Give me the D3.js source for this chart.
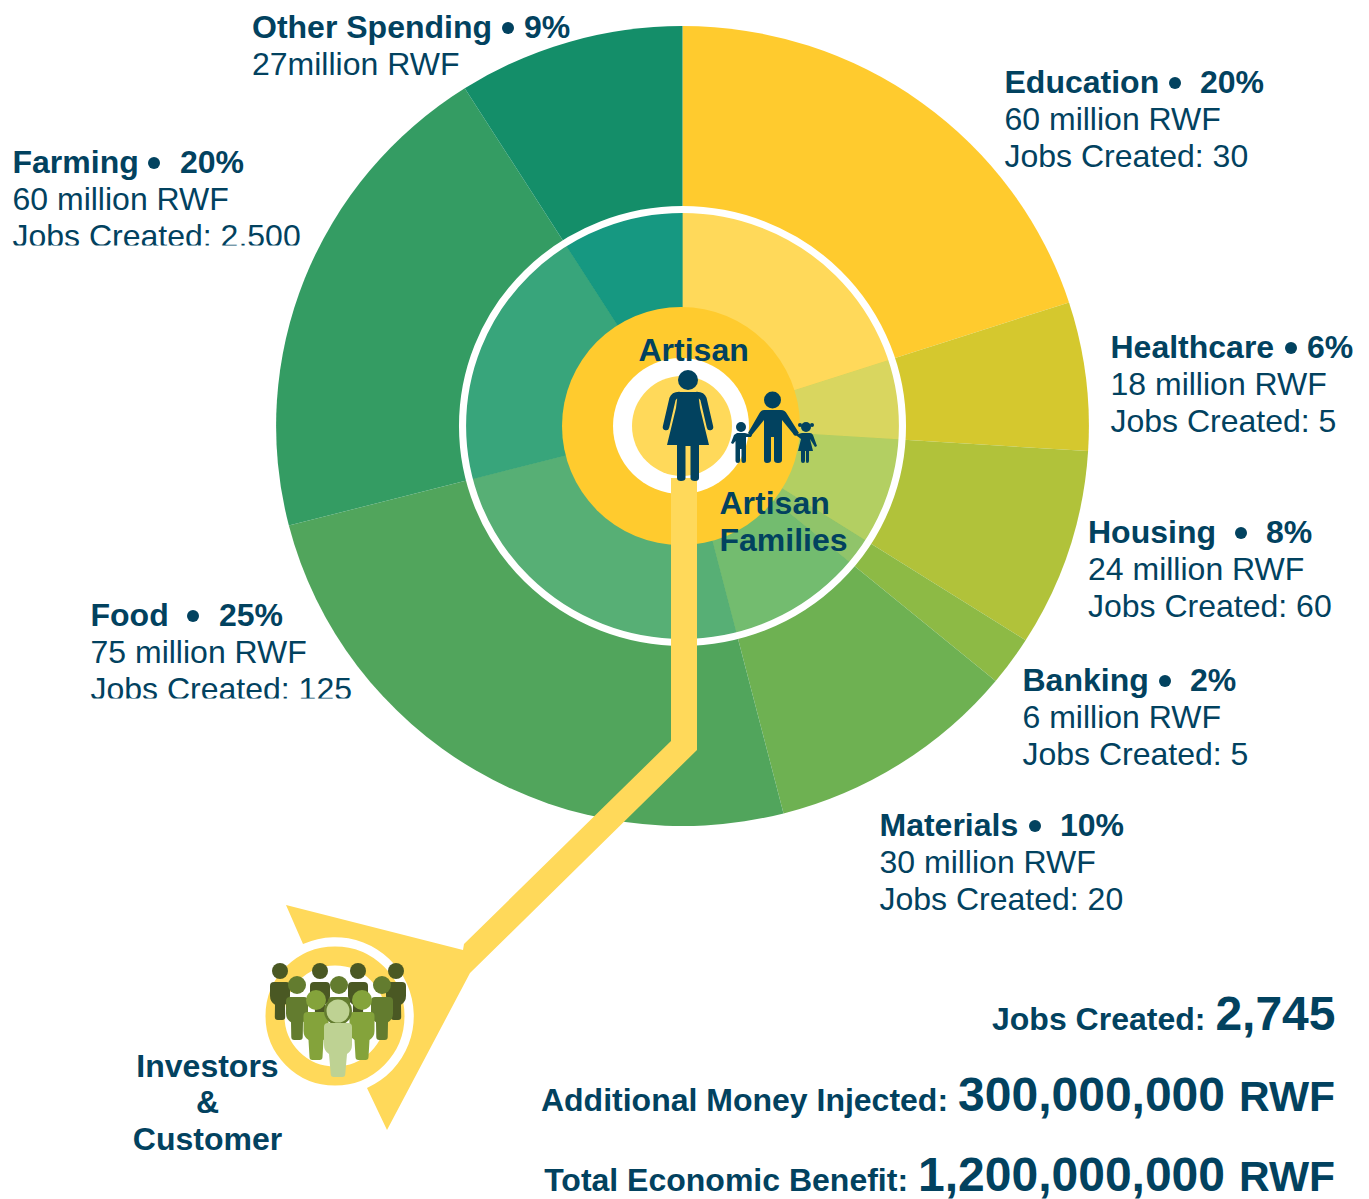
<!DOCTYPE html>
<html><head><meta charset="utf-8">
<style>html,body{margin:0;padding:0;background:#fff}svg{display:block}text{font-family:"Liberation Sans",Arial,sans-serif;fill:#02425F}</style>
<script src="https://cdn.jsdelivr.net/npm/d3@7/dist/d3.min.js"></script>
</head><body><svg id="c" width="1369" height="1199"></svg>
<script>
const categories=["Education","Healthcare","Housing","Banking","Materials","Food","Farming","Other Spending"];
const shares=[20,6,8,2,10,25,20,9];
const amounts=["60 million RWF","18 million RWF","24 million RWF","6 million RWF","30 million RWF","75 million RWF","60 million RWF","27million RWF"];
const jobs=["30","5","60","5","20","125","2,500",null];
const outerColors=["#FFCB2E","#D5C82E","#B1C23A","#8DBA45","#6EB152","#51A55C","#349C63","#148E69"];
const innerColors=["#FFD95A","#D9D65F","#B3CF62","#90C46A","#73BC6F","#57AF75","#38A57B","#169881"];
// label placement, separate from the values: x, first baseline, bullet x, percent x
const labelX=[1004.5,1110.5,1088,1022.5,879.5,90.5,12.5,252];
const labelY=[93,358,543,691,836,626,173,38];
const bulletX=[1175,1291,1241,1165,1035,193,154,508];
const pctX=[1200,1307,1266,1190,1060,219,180,524];
const totalsLabels=["Jobs Created:","Additional Money Injected:","Total Economic Benefit:"];
const totalsValues=["2,745","300,000,000","1,200,000,000"];
const totalsUnits=[null,"RWF","RWF"];

const svg=d3.select("#c");
const cx=682.5,cy=426;
const defs=svg.append("defs");
defs.append("clipPath").attr("id","clipFarm").append("rect").attr("x",0).attr("y",120).attr("width",400).attr("height",125.5);
defs.append("clipPath").attr("id","clipFood").append("rect").attr("x",0).attr("y",590).attr("width",400).attr("height",108.5);

const pie=d3.pie().sort(null).value(d=>d)(shares);
const donut=svg.append("g").attr("transform",`translate(${cx},${cy}) scale(1.016,1)`);
const outerArc=d3.arc().innerRadius(0).outerRadius(400);
const innerArc=d3.arc().innerRadius(0).outerRadius(216);
donut.selectAll("path.o").data(pie).join("path").attr("class","o").attr("d",outerArc).attr("fill",(d,i)=>outerColors[i]);
donut.selectAll("path.i").data(pie).join("path").attr("class","i").attr("d",innerArc).attr("fill",(d,i)=>innerColors[i]);
donut.append("circle").attr("r",216.5).attr("fill","none").attr("stroke","#fff").attr("stroke-width",7);

// centre
svg.append("circle").attr("cx",681).attr("cy",426).attr("r",119).attr("fill","#FFCB2E");
svg.append("circle").attr("cx",681).attr("cy",426).attr("r",68).attr("fill","#fff");
svg.append("circle").attr("cx",682).attr("cy",426).attr("r",50).attr("fill","#FFD95A");

// flow arrow
const gold="#FFD95A";
svg.append("path").attr("fill",gold).attr("d","M286,905 L463,950 L464,944 L671,741 L671,478 L697,478 L697,750 L470,973 L387,1130 L367,1088 A78,78 0 0 0 303,944 Z");
svg.append("circle").attr("cx",335).attr("cy",1016).attr("r",60).attr("fill","#fff").attr("stroke",gold).attr("stroke-width",19);

// figures
const ink="#02425F";
const fig=svg.append("g").attr("fill",ink);
fig.append("circle").attr("cx",688).attr("cy",380).attr("r",10);
fig.append("path").attr("d","M678,392 L698,392 L700,408 L709,445 L699,445 L699,478 Q699,481 695,481 Q690.5,481 690.5,478 L690.5,446 L685.5,446 L685.5,478 Q685.5,481 681,481 Q677,481 677,478 L677,445 L667,445 L676,408 Z");
fig.append("path").attr("fill","none").attr("stroke",ink).attr("stroke-width",6.5).attr("stroke-linecap","round").attr("stroke-linejoin","round").attr("d","M679,395 Q674,395 672.5,399 L666,427 M697,395 Q702,395 703.5,399 L710,427");
// man
fig.append("circle").attr("cx",772.5).attr("cy",400).attr("r",8.5);
fig.append("path").attr("d","M764,410 L781,410 Q785,410 787,414 L799,433 L795,436 L782,420 L782,460 Q782,463 778,463 Q774,463 774,460 L774,437 L771,437 L771,460 Q771,463 767,463 Q764,463 764,460 L764,420 L751,436 L748,433 L759,414 Q761,410 764,410 Z");
// boy
fig.append("circle").attr("cx",741).attr("cy",427).attr("r",5);
fig.append("path").attr("d","M737,433 L745,433 L752,435 L751,437 L746,437 L746,461 Q746,463 743.5,463 Q741.5,463 741.5,461 L741.5,449 L740,449 L740,461 Q740,463 738,463 Q735.5,463 735.5,461 L735.5,441 L733,444 L731,443 L734,435 Z");
// girl
fig.append("circle").attr("cx",806).attr("cy",427).attr("r",5);
fig.append("circle").attr("cx",800).attr("cy",425).attr("r",2);
fig.append("circle").attr("cx",812).attr("cy",425).attr("r",2);
fig.append("path").attr("d","M802,433 L810,433 Q812,433 813,435 L817,446 L815,447 L810,439 L813,451 L809,451 L809,461 Q809,463 807,463 Q806,463 806,461 L806,451 L805,451 L805,461 Q805,463 803,463 Q801,463 801,461 L801,451 L798,451 L801,439 L797,436 L793,434 L794,432 L798,434 Z");

// crowd
function person(x,headY,r,bodyTop,bodyBottom,w,color){
  const g=svg.append("g").attr("fill",color);
  g.append("circle").attr("cx",x).attr("cy",headY).attr("r",r);
  const h=w/2,foot=w*0.26;
  const mid=bodyTop+(bodyBottom-bodyTop)*0.52;
  g.append("path").attr("d",`M${x-h+4},${bodyTop} L${x+h-4},${bodyTop} Q${x+h},${bodyTop} ${x+h},${bodyTop+4} L${x+h},${mid-6} Q${x+h},${mid} ${x+h-5},${mid+3} L${x+foot},${bodyBottom-3} Q${x+foot},${bodyBottom} ${x+foot-3},${bodyBottom} L${x-foot+3},${bodyBottom} Q${x-foot},${bodyBottom} ${x-foot},${bodyBottom-3} L${x-h+5},${mid+3} Q${x-h},${mid} ${x-h},${mid-6} L${x-h},${bodyTop+4} Q${x-h},${bodyTop} ${x-h+4},${bodyTop} Z`);
}
[280,320,358,396].forEach(x=>person(x,971,8,982,1020,20,"#4A5823"));
[297,382].forEach(x=>person(x,985,9,997,1040,22,"#637C2F"));
person(339,985,9,997,1040,22,"#637C2F");
[316,362].forEach(x=>person(x,1000,10,1012,1060,25,"#84A33B"));
svg.append("circle").attr("cx",338).attr("cy",1011).attr("r",14).attr("fill","#637C2F");
person(338,1011,11.5,1023,1077,28,"#BED293");

// labels
const fs=32;
const t=(sel,x,y,s,bold,size,anchor)=>sel.append("text").attr("x",x).attr("y",y).attr("font-size",size||fs).attr("font-weight",bold?700:400).attr("text-anchor",anchor||"start").text(s);
categories.forEach((c,i)=>{
  const g=svg.append("g");
  t(g,labelX[i],labelY[i],c,true);
  g.append("circle").attr("cx",bulletX[i]).attr("cy",labelY[i]-10).attr("r",6).attr("fill",ink);
  t(g,pctX[i],labelY[i],shares[i]+"%",true);
  t(g,labelX[i],labelY[i]+37,amounts[i],false);
  if(jobs[i]!==null){
    const j=t(g,labelX[i],labelY[i]+74,"Jobs Created: "+jobs[i],false);
    if(c==="Farming")j.attr("clip-path","url(#clipFarm)");
    if(c==="Food")j.attr("clip-path","url(#clipFood)");
  }
});
t(svg,638.5,361,"Artisan",true);
t(svg,719.5,514,"Artisan",true);
t(svg,719.5,551,"Families",true);
t(svg,207.5,1076.5,"Investors",true,fs,"middle");
t(svg,207.5,1113,"&",true,fs,"middle");
t(svg,207.5,1150,"Customer",true,fs,"middle");

// totals
const baseY=[1030,1111,1191];
totalsLabels.forEach((l,i)=>{
  const unit=totalsUnits[i];
  const valueEnd=unit?1225:1335.5;
  t(svg,valueEnd,baseY[i],totalsValues[i],true,48,"end");
  if(unit)t(svg,1335,baseY[i],unit,true,42.5,"end");
  const w=svg.append("text").attr("font-size",48).attr("font-weight",700).text(totalsValues[i]);
  const vw=w.node().getComputedTextLength();w.remove();
  t(svg,valueEnd-vw-10,baseY[i],l,true,fs,"end");
});
</script></body></html>
